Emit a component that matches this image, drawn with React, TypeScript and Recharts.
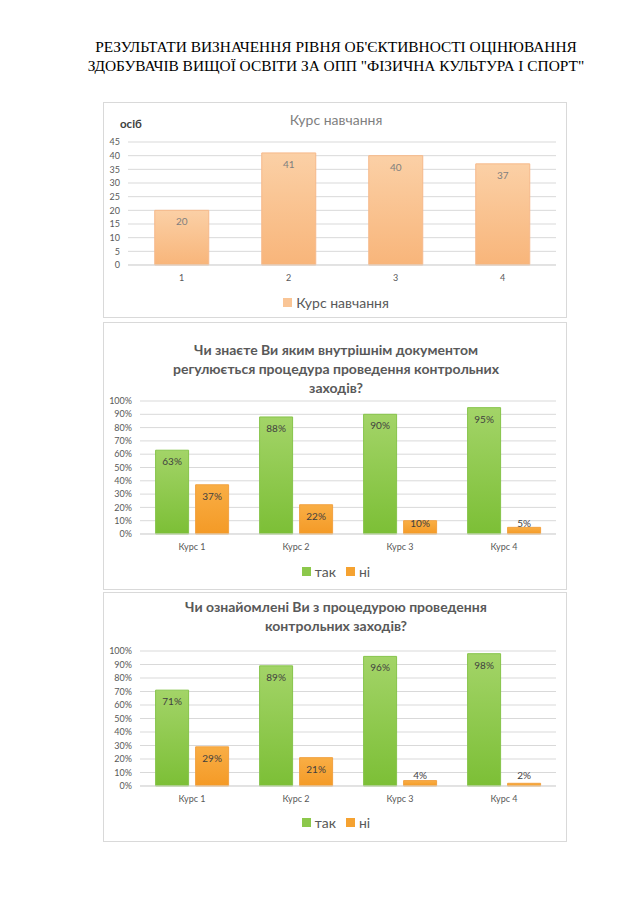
import React from "react";
import { Bar, BarChart, CartesianGrid, XAxis, YAxis } from "recharts";

const courseIds = ["1", "2", "3", "4"];
const students = [20, 41, 40, 37];
const studentTicks = [0, 5, 10, 15, 20, 25, 30, 35, 40, 45];

const courseNames = ["Курс 1", "Курс 2", "Курс 3", "Курс 4"];
const docYes = [63, 88, 90, 95];
const docNo = [37, 22, 10, 5];
const procYes = [71, 89, 96, 98];
const procNo = [29, 21, 4, 2];
const pctTicks = [0, 10, 20, 30, 40, 50, 60, 70, 80, 90, 100];

const FONT = "Lato, 'Open Sans', sans-serif";
const GRID = "#D9D9D9";
const TICK = { fontSize: 9, fill: "#595959", fontFamily: FONT };

const studentsData = courseIds.map((c, i) => ({ course: c, value: students[i] }));
const docData = courseNames.map((c, i) => ({ course: c, yes: docYes[i], no: docNo[i] }));
const procData = courseNames.map((c, i) => ({ course: c, yes: procYes[i], no: procNo[i] }));

// label sits just inside the bar top, or rests on the axis when the bar is short
const makeLabel = (fmt: (v: number) => string, color: string) => (props: any) => {
  const x = Number(props.x), y = Number(props.y), w = Number(props.width), h = Number(props.height);
  const cy = Math.min(y + 11, y + h - 11);
  return (
    <text x={x + w / 2} y={cy} textAnchor="middle" dominantBaseline="central" fontSize={10} fill={color} fontFamily={FONT}>
      {fmt(props.value)}
    </text>
  );
};

const boxStyle = (top: number, height: number): React.CSSProperties => ({
  position: "absolute",
  left: 103,
  top,
  width: 464,
  height,
  border: "1px solid #D9D9D9",
  boxSizing: "border-box",
  background: "#fff",
});

function Swatch({ color, label }: { color: string; label: string }) {
  return (
    <span style={{ display: "flex", alignItems: "center", gap: 4 }}>
      <span style={{ width: 9, height: 9, background: color }} />
      <span style={{ fontSize: 14, color: "#595959", fontFamily: FONT }}>{label}</span>
    </span>
  );
}

function YesNoChart({ top, height, title, titleTop, plotTop, legendTop, data }: any) {
  return (
    <div style={boxStyle(top, height)}>
      <div
        style={{
          position: "absolute",
          top: titleTop,
          left: 0,
          width: 464,
          textAlign: "center",
          fontFamily: FONT,
          fontWeight: 700,
          fontSize: 14,
          lineHeight: "19px",
          color: "#595959",
        }}
      >
        {title.map((t: string) => (
          <div key={t}>{t}</div>
        ))}
      </div>
      <div style={{ position: "absolute", left: -1, top: -1 }}>
        <BarChart
          width={464}
          height={height}
          data={data}
          margin={{ top: plotTop, right: 11, bottom: 36, left: 0 }}
          barCategoryGap="15%"
          barGap={7}
        >
          <defs>
            <linearGradient id="gYes" x1="0" y1="0" x2="0" y2="1">
              <stop offset="0%" stopColor="#A3D468" />
              <stop offset="100%" stopColor="#7CBF36" />
            </linearGradient>
            <linearGradient id="gNo" x1="0" y1="0" x2="0" y2="1">
              <stop offset="0%" stopColor="#F9AE45" />
              <stop offset="100%" stopColor="#F49A26" />
            </linearGradient>
          </defs>
          <CartesianGrid vertical={false} stroke={GRID} />
          <XAxis
            dataKey="course"
            height={20}
            tickSize={0}
            tickMargin={10}
            tick={TICK}
            axisLine={{ stroke: GRID }}
          />
          <YAxis
            width={37}
            domain={[0, 100]}
            ticks={pctTicks}
            tickFormatter={(v) => `${v}%`}
            tickSize={0}
            tickMargin={8}
            tick={TICK}
            axisLine={false}
            interval={0}
          />
          <Bar dataKey="yes" fill="url(#gYes)" stroke="#86C44A" isAnimationActive={false} label={makeLabel((v) => `${v}%`, "#3F3F3F")} />
          <Bar dataKey="no" fill="url(#gNo)" stroke="#F2A240" isAnimationActive={false} label={makeLabel((v) => `${v}%`, "#3F3F3F")} />
        </BarChart>
      </div>
      <div style={{ position: "absolute", top: legendTop - 10, left: 0, width: 464, display: "flex", justifyContent: "center", gap: 10 }}>
        <Swatch color="#8CC84B" label="так" />
        <Swatch color="#F5A231" label="ні" />
      </div>
    </div>
  );
}

export default function App() {
  return (
    <div style={{ position: "absolute", left: 0, top: 0, width: 640, height: 905, background: "#fff" }}>
      <div
        style={{
          position: "absolute",
          top: 37,
          left: 0,
          width: 672,
          textAlign: "center",
          fontFamily: "'Liberation Serif', 'Times New Roman', serif",
          fontSize: 15.4,
          lineHeight: "19px",
          color: "#000",
        }}
      >
        <div>РЕЗУЛЬТАТИ ВИЗНАЧЕННЯ РІВНЯ ОБ'ЄКТИВНОСТІ ОЦІНЮВАННЯ</div>
        <div>ЗДОБУВАЧІВ ВИЩОЇ ОСВІТИ ЗА ОПП "ФІЗИЧНА КУЛЬТУРА І СПОРТ"</div>
      </div>

      <div style={boxStyle(102, 216)}>
        <div style={{ position: "absolute", top: 8, left: 0, width: 464, textAlign: "center", fontFamily: FONT, fontSize: 14, color: "#7F7F7F" }}>
          Курс навчання
        </div>
        <div style={{ position: "absolute", top: 14, left: 16, fontFamily: FONT, fontSize: 11.5, fontWeight: 700, color: "#404040" }}>
          осіб
        </div>
        <div style={{ position: "absolute", left: -1, top: -1 }}>
          <BarChart
            width={464}
            height={216}
            data={studentsData}
            margin={{ top: 40, right: 11, bottom: 33, left: 0 }}
            barCategoryGap="25%"
          >
            <defs>
              <linearGradient id="gCourse" x1="0" y1="0" x2="0" y2="1">
                <stop offset="0%" stopColor="#FBD0A6" />
                <stop offset="100%" stopColor="#F8B57A" />
              </linearGradient>
            </defs>
            <CartesianGrid vertical={false} stroke={GRID} />
            <XAxis dataKey="course" height={20} tickSize={0} tickMargin={10} tick={TICK} axisLine={{ stroke: GRID }} />
            <YAxis
              width={25}
              domain={[0, 45]}
              ticks={studentTicks}
              tickSize={0}
              tickMargin={8}
              tick={TICK}
              axisLine={false}
              interval={0}
            />
            <Bar dataKey="value" fill="url(#gCourse)" stroke="#F6B98A" isAnimationActive={false} label={makeLabel((v) => `${v}`, "#7F7F7F")} />
          </BarChart>
        </div>
        <div style={{ position: "absolute", top: 191, left: 0, width: 464, display: "flex", justifyContent: "center" }}>
          <Swatch color="#F9C596" label="Курс навчання" />
        </div>
      </div>

      <YesNoChart
        top={322}
        height={268}
        title={["Чи знаєте Ви яким внутрішнім документом", "регулюється процедура проведення контрольних", "заходів?"]}
        titleTop={17}
        plotTop={79}
        legendTop={250}
        data={docData}
      />
      <YesNoChart
        top={592}
        height={250}
        title={["Чи ознайомлені Ви з процедурою проведення", "контрольних заходів?"]}
        titleTop={4}
        plotTop={59}
        legendTop={231}
        data={procData}
      />
    </div>
  );
}
